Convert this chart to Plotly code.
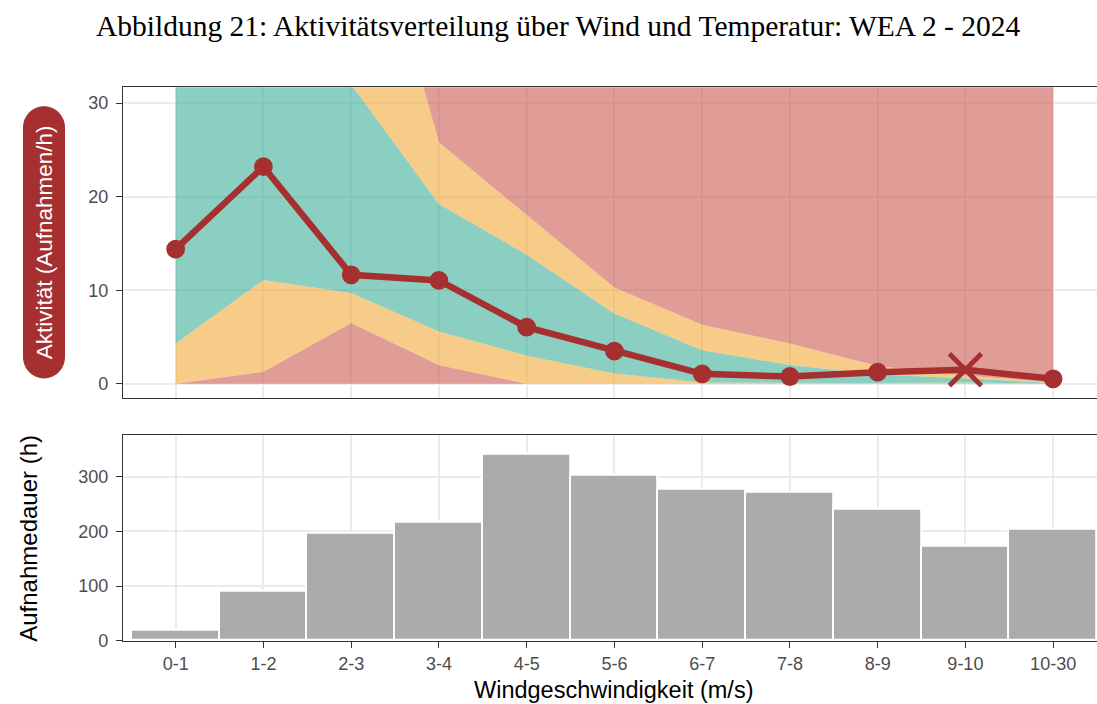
import plotly.graph_objects as go

# ---------------- data ----------------
categories = ["0-1", "1-2", "2-3", "3-4", "4-5", "5-6", "6-7", "7-8", "8-9", "9-10", "10-30"]

# activity (recordings per hour)
activity = [14.4, 23.2, 11.65, 11.05, 6.05, 3.5, 1.07, 0.78, 1.24, 1.5, 0.53]
# flag: point based on few data (drawn as a cross)
low_data = [False, False, False, False, False, False, False, False, False, True, False]

# stacked band boundaries (upper edges, cumulative, from bottom)
band_base = [0, 0, 0, 0, 0, 0, 0, 0, 0, 0, 0]
band_red_low = [0, 1.3, 6.5, 2.0, 0, 0, 0, 0, 0, 0, 0]
band_yellow_low = [4.3, 11.1, 9.7, 5.6, 3.0, 1.1, 0.15, 0.1, 0.08, 0.15, 0.02]
band_teal = [45, 40, 32, 19.2, 13.8, 7.5, 3.6, 2.0, 1.0, 0.6, 0.1]
band_yellow_high = [60, 60, 59.5, 25.8, 18.0, 10.3, 6.3, 4.3, 1.9, 0.9, 0.15]
band_red_high = [80, 80, 80, 80, 80, 80, 80, 80, 80, 80, 80]

# recording duration (hours)
duration = [18, 90, 196, 216, 340, 302, 276, 270, 240, 172, 204]

y_ticks_top = [0, 10, 20, 30]
y_ticks_bottom = [0, 100, 200, 300]

# ---------------- style ----------------
W = 1097
KY = 715 / 704          # vertical compensation for the captured page height
H = 716
RED = "#A5302F"
FILL_RED = "rgba(204,90,80,0.6)"
FILL_YEL = "rgba(241,170,57,0.6)"
FILL_TEAL = "rgba(60,175,153,0.6)"
GRID = "#EBEBEB"
AXC = "#333333"
TICKC = "#4D4D4D"
SANS = "Liberation Sans, Arial, sans-serif"
SERIF = "Liberation Serif, Times New Roman, serif"

def px_x(p):
    return p / W

def px_y(p):
    return 1 - (p * KY) / H

fig = go.Figure()

bands = [
    (band_base, None),
    (band_red_low, FILL_RED),
    (band_yellow_low, FILL_YEL),
    (band_teal, FILL_TEAL),
    (band_yellow_high, FILL_YEL),
    (band_red_high, FILL_RED),
]
for vals, col in bands:
    fig.add_trace(go.Scatter(
        x=categories, y=vals, mode="lines",
        line=dict(width=0, color="rgba(0,0,0,0)"),
        fill=None if col is None else "tonexty",
        fillcolor=col, hoverinfo="skip", showlegend=False,
        xaxis="x", yaxis="y",
    ))

symbols = ["x-thin" if f else "circle" for f in low_data]
sizes = [32 if f else 14 for f in low_data]
fig.add_trace(go.Scatter(
    x=categories, y=activity, mode="lines+markers",
    line=dict(color=RED, width=6.5),
    marker=dict(color=RED, size=sizes, symbol=symbols, opacity=1,
                line=dict(color=RED, width=4.8)),
    showlegend=False, xaxis="x", yaxis="y",
))

fig.add_trace(go.Bar(
    x=categories, y=duration, width=1.0,
    marker=dict(color="#ABABAB", line=dict(color="white", width=1.8)),
    showlegend=False, xaxis="x2", yaxis="y2",
))

xdom = [px_x(123), 1.0]
xrange = [-0.6, 10.5]
common_x = dict(type="category", categoryorder="array", categoryarray=categories,
                range=xrange, domain=xdom, showgrid=True, gridcolor=GRID, gridwidth=1.6,
                zeroline=False, showline=True, mirror=True, linecolor=AXC, linewidth=1.2,
                tickfont=dict(family=SANS, size=18, color=TICKC))
common_y = dict(showgrid=True, gridcolor=GRID, gridwidth=1.6, zeroline=False,
                showline=True, mirror=False, linecolor=AXC, linewidth=1.2,
                ticks="outside", ticklen=6, tickwidth=1.2, tickcolor=AXC,
                tickfont=dict(family=SANS, size=18, color=TICKC), ticklabelstandoff=4)

fig.update_layout(
    width=W, height=H,
    margin=dict(l=0, r=0, t=0, b=0),
    paper_bgcolor="white", plot_bgcolor="white",
    xaxis=dict(**common_x, anchor="y", showticklabels=False, ticks=""),
    yaxis=dict(**common_y, anchor="x", domain=[px_y(397), px_y(87)],
               range=[-1.47, 31.7], tickvals=y_ticks_top),
    xaxis2=dict(**common_x, anchor="y2", ticks="outside", ticklen=6, tickwidth=1.2,
                tickcolor=AXC, showticklabels=True),
    yaxis2=dict(**common_y, anchor="x2", domain=[px_y(640), px_y(434)],
                range=[0, 376.8], tickvals=y_ticks_bottom),
    bargap=0,
)

# rounded label badge for the top y-axis title
rx = 21
ry = 21 * KY
hh = 134 * KY
cx = rx * 0.5523
cy = ry * 0.5523
path = (f"M {-rx},{-(hh - ry)} L {-rx},{hh - ry} "
        f"C {-rx},{hh - ry + cy} {-cx},{hh} 0,{hh} "
        f"C {cx},{hh} {rx},{hh - ry + cy} {rx},{hh - ry} "
        f"L {rx},{-(hh - ry)} "
        f"C {rx},{-(hh - ry + cy)} {cx},{-hh} 0,{-hh} "
        f"C {-cx},{-hh} {-rx},{-(hh - ry + cy)} {-rx},{-(hh - ry)} Z")
fig.add_shape(type="path", xref="paper", yref="paper",
              xsizemode="pixel", ysizemode="pixel",
              xanchor=px_x(44), yanchor=px_y(242), path=path,
              fillcolor=RED, line=dict(width=0), layer="above")

fig.add_annotation(text="Aktivität (Aufnahmen/h)", xref="paper", yref="paper",
                   x=px_x(44), y=px_y(242), textangle=-90, showarrow=False,
                   font=dict(family=SANS, size=22.5, color="white"),
                   xanchor="center", yanchor="middle")
fig.add_annotation(text="Aufnahmedauer (h)", xref="paper", yref="paper",
                   x=px_x(29), y=px_y(538), textangle=-90, showarrow=False,
                   font=dict(family=SANS, size=24, color="black"),
                   xanchor="center", yanchor="middle")
fig.add_annotation(text="Windgeschwindigkeit (m/s)", xref="paper", yref="paper",
                   x=px_x(613), y=px_y(689), showarrow=False,
                   font=dict(family=SANS, size=23.5, color="black"),
                   xanchor="center", yanchor="middle")
fig.add_annotation(text="Abbildung 21: Aktivitätsverteilung über Wind und Temperatur: WEA 2 - 2024",
                   xref="paper", yref="paper", x=px_x(558), y=px_y(26), showarrow=False,
                   font=dict(family=SERIF, size=29.5, color="black"),
                   xanchor="center", yanchor="middle")

fig.write_html("out.html", config={"displayModeBar": False},
               post_script="document.body.style.margin='0px';")
